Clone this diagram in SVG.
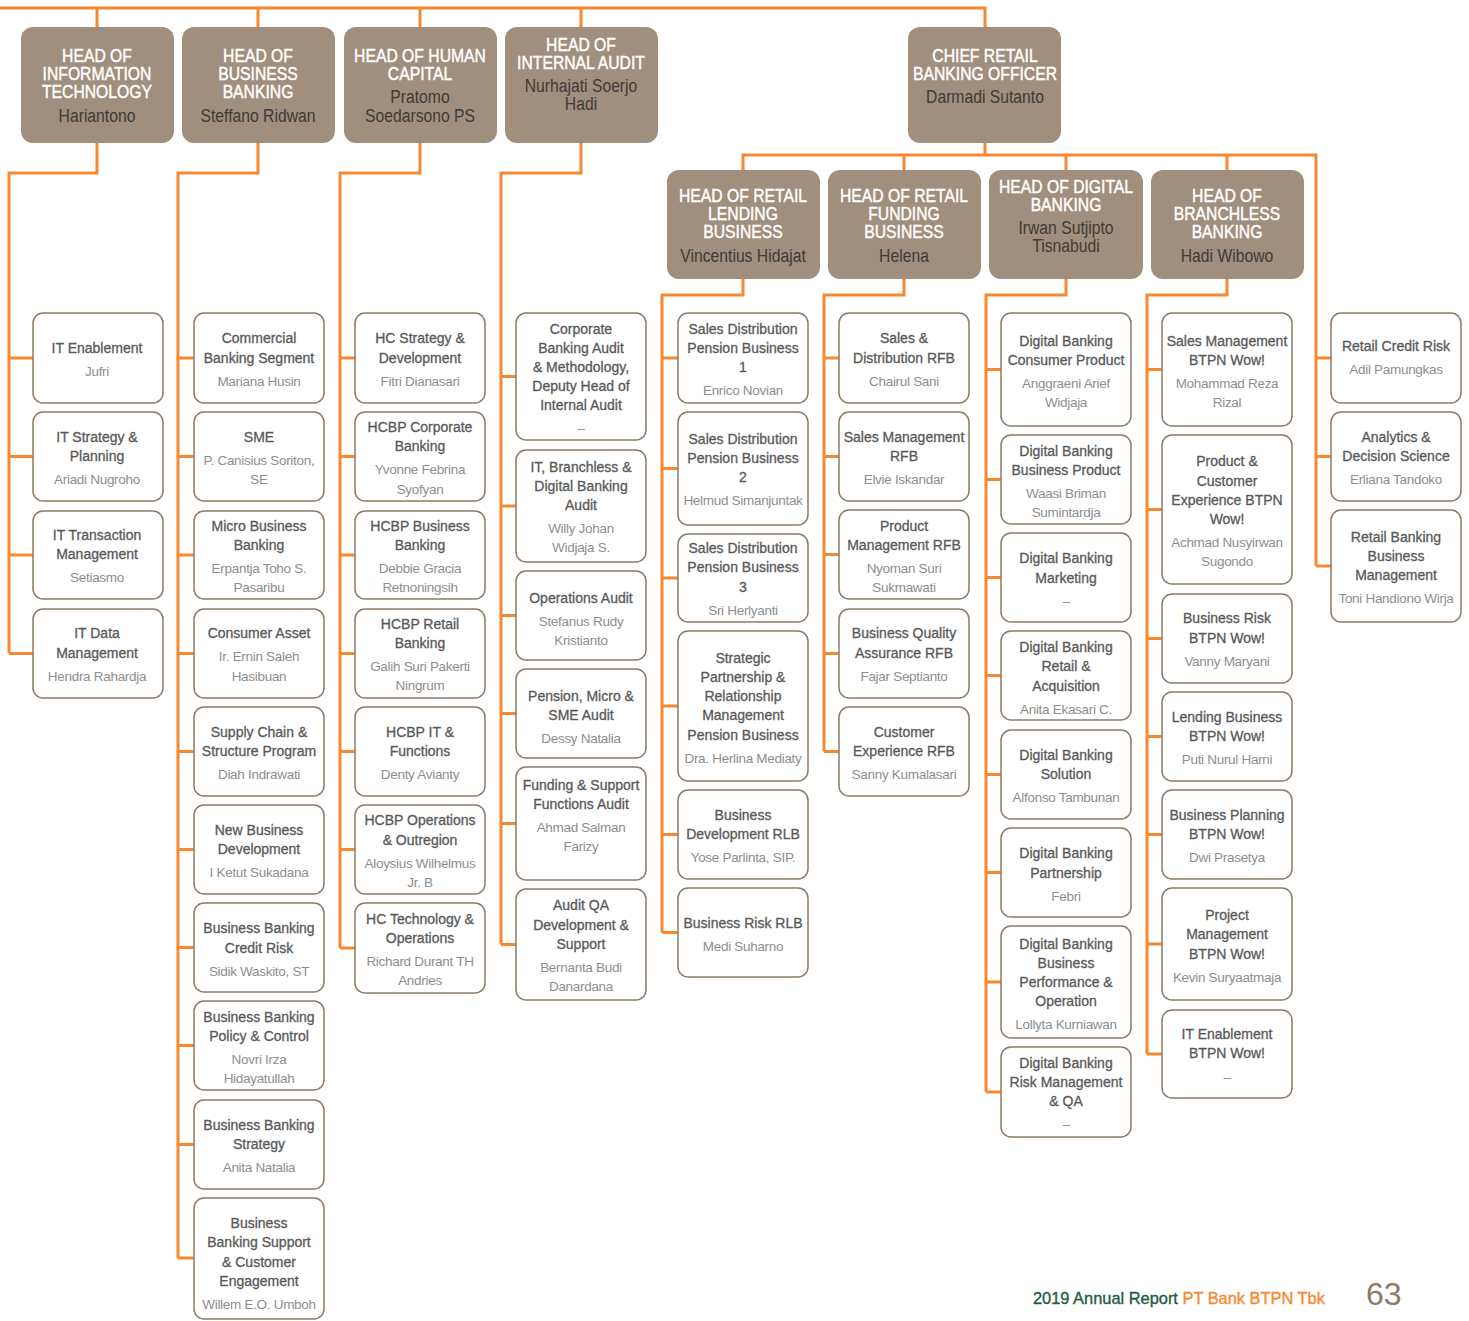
<svg xmlns="http://www.w3.org/2000/svg" width="1469" height="1321" viewBox="0 0 1469 1321">
<style>
  .hd { fill: #a08f7d; }
  .bx { fill: #ffffff; stroke: #8c7b69; stroke-width: 1.5; }
  .ht { font-family: "Liberation Sans", Arial, sans-serif; font-size: 18.5px; fill: #ffffff; stroke: #ffffff; stroke-width: 0.45; text-anchor: middle; }
  .hn { font-family: "Liberation Sans", Arial, sans-serif; font-size: 18.5px; fill: #3e3a36; text-anchor: middle; }
  .t { font-family: "Liberation Sans", Arial, sans-serif; font-size: 14px; fill: #595959; stroke: #595959; stroke-width: 0.3; text-anchor: middle; }
  .n { font-family: "Liberation Sans", Arial, sans-serif; font-size: 13.5px; letter-spacing: -0.3px; fill: #8e8e8e; text-anchor: middle; }
  .ln { fill: none; stroke: #f7882f; stroke-width: 3; stroke-linejoin: miter; }
  .ft { font-family: "Liberation Sans", Arial, sans-serif; font-size: 16.4px; stroke-width: 0.35; }
</style>
<rect width="1469" height="1321" fill="#ffffff"/>

<!-- connectors -->
<g id="connectors" class="ln">
  <path d="M0 8H985V27M97 8V27M258 8V27M420 8V27M581 8V27"/>
  <path d="M985 143V155M743 170V155H1316V566M904 155V170M1066 155V170M1227 155V170"/>
  <path d="M1316 358H1331M1316 456.5H1331M1316 566H1331"/>
  <!-- information technology -->
  <path d="M97 143V173H9V653.5M9 358H33M9 456.5H33M9 555H33M9 653.5H33"/>
  <!-- business banking -->
  <path d="M258 143V173H178V1258M178 358H194M178 456.5H194M178 555H194M178 653.5H194M178 751.5H194M178 849.5H194M178 947.5H194M178 1045.5H194M178 1144.5H194M178 1258H194"/>
  <!-- human capital -->
  <path d="M420 143V173H340V948M340 358H355M340 456.5H355M340 555H355M340 653.5H355M340 751.5H355M340 849.5H355M340 948H355"/>
  <!-- internal audit -->
  <path d="M581 143V173H501V944.5M501 376.5H516M501 506H516M501 615.5H516M501 713.5H516M501 823.5H516M501 944.5H516"/>
  <!-- retail lending -->
  <path d="M743 279V295H662V932.5M662 358H678M662 468.5H678M662 578H678M662 706H678M662 834.5H678M662 932.5H678"/>
  <!-- retail funding -->
  <path d="M904 279V295H824V751.5M824 358H839M824 456.5H839M824 554.5H839M824 653.5H839M824 751.5H839"/>
  <!-- digital banking -->
  <path d="M1066 279V295H986V1092M986 369.5H1001M986 479.5H1001M986 577.5H1001M986 675.5H1001M986 774.5H1001M986 872.5H1001M986 982H1001M986 1092H1001"/>
  <!-- branchless banking -->
  <path d="M1227 279V295H1147V1054M1147 369.5H1162M1147 509.5H1162M1147 638.5H1162M1147 736.5H1162M1147 834.5H1162M1147 944H1162M1147 1054H1162"/>
</g>

<!-- first-level heads -->
<g id="head-it">
  <rect class="hd" x="21" y="27" width="153" height="116" rx="12"/>
  <g transform="translate(97 0) scale(0.85 1)">
    <text class="ht"><tspan x="0" y="62">HEAD OF</tspan><tspan x="0" y="80">INFORMATION</tspan><tspan x="0" y="98">TECHNOLOGY</tspan></text>
    <text class="hn" x="0" y="122">Hariantono</text>
  </g>
</g>
<g id="head-bb">
  <rect class="hd" x="182" y="27" width="153" height="116" rx="12"/>
  <g transform="translate(258 0) scale(0.85 1)">
    <text class="ht"><tspan x="0" y="62">HEAD OF</tspan><tspan x="0" y="80">BUSINESS</tspan><tspan x="0" y="98">BANKING</tspan></text>
    <text class="hn" x="0" y="122">Steffano Ridwan</text>
  </g>
</g>
<g id="head-hc">
  <rect class="hd" x="344" y="27" width="153" height="116" rx="12"/>
  <g transform="translate(420 0) scale(0.85 1)">
    <text class="ht"><tspan x="0" y="62">HEAD OF HUMAN</tspan><tspan x="0" y="80">CAPITAL</tspan></text>
    <text class="hn"><tspan x="0" y="103">Pratomo</tspan><tspan x="0" y="122">Soedarsono PS</tspan></text>
  </g>
</g>
<g id="head-ia">
  <rect class="hd" x="505" y="27" width="153" height="116" rx="12"/>
  <g transform="translate(581 0) scale(0.85 1)">
    <text class="ht"><tspan x="0" y="51">HEAD OF</tspan><tspan x="0" y="69">INTERNAL AUDIT</tspan></text>
    <text class="hn"><tspan x="0" y="92">Nurhajati Soerjo</tspan><tspan x="0" y="110">Hadi</tspan></text>
  </g>
</g>
<g id="head-crbo">
  <rect class="hd" x="908" y="27" width="153" height="116" rx="12"/>
  <g transform="translate(985 0) scale(0.85 1)">
    <text class="ht"><tspan x="0" y="62">CHIEF RETAIL</tspan><tspan x="0" y="80">BANKING OFFICER</tspan></text>
    <text class="hn" x="0" y="103">Darmadi Sutanto</text>
  </g>
</g>

<!-- retail heads -->
<g id="head-lending">
  <rect class="hd" x="667" y="170" width="153" height="109" rx="12"/>
  <g transform="translate(743 0) scale(0.85 1)">
    <text class="ht"><tspan x="0" y="202">HEAD OF RETAIL</tspan><tspan x="0" y="220">LENDING</tspan><tspan x="0" y="238">BUSINESS</tspan></text>
    <text class="hn" x="0" y="262">Vincentius Hidajat</text>
  </g>
</g>
<g id="head-funding">
  <rect class="hd" x="828" y="170" width="153" height="109" rx="12"/>
  <g transform="translate(904 0) scale(0.85 1)">
    <text class="ht"><tspan x="0" y="202">HEAD OF RETAIL</tspan><tspan x="0" y="220">FUNDING</tspan><tspan x="0" y="238">BUSINESS</tspan></text>
    <text class="hn" x="0" y="262">Helena</text>
  </g>
</g>
<g id="head-digital">
  <rect class="hd" x="989" y="170" width="154" height="109" rx="12"/>
  <g transform="translate(1066 0) scale(0.85 1)">
    <text class="ht"><tspan x="0" y="193">HEAD OF DIGITAL</tspan><tspan x="0" y="211">BANKING</tspan></text>
    <text class="hn"><tspan x="0" y="234">Irwan Sutjipto</tspan><tspan x="0" y="252">Tisnabudi</tspan></text>
  </g>
</g>
<g id="head-branchless">
  <rect class="hd" x="1151" y="170" width="153" height="109" rx="12"/>
  <g transform="translate(1227 0) scale(0.85 1)">
    <text class="ht"><tspan x="0" y="202">HEAD OF</tspan><tspan x="0" y="220">BRANCHLESS</tspan><tspan x="0" y="238">BANKING</tspan></text>
    <text class="hn" x="0" y="262">Hadi Wibowo</text>
  </g>
</g>

<!-- information technology units -->
<g id="it-enablement"><rect class="bx" x="33" y="313" width="130" height="90" rx="10"/>
  <text class="t" x="97" y="352.5">IT Enablement</text><text class="n" x="97" y="375.5">Jufri</text></g>
<g id="it-strategy"><rect class="bx" x="33" y="412" width="130" height="89" rx="10"/>
  <text class="t"><tspan x="97" y="441.5">IT Strategy &amp;</tspan><tspan x="97" y="460.5">Planning</tspan></text><text class="n" x="97" y="483.5">Ariadi Nugroho</text></g>
<g id="it-transaction"><rect class="bx" x="33" y="511" width="130" height="88" rx="10"/>
  <text class="t"><tspan x="97" y="539.5">IT Transaction</tspan><tspan x="97" y="558.5">Management</tspan></text><text class="n" x="97" y="581.5">Setiasmo</text></g>
<g id="it-data"><rect class="bx" x="33" y="609" width="130" height="89" rx="10"/>
  <text class="t"><tspan x="97" y="637.5">IT Data</tspan><tspan x="97" y="657.5">Management</tspan></text><text class="n" x="97" y="680.5">Hendra Rahardja</text></g>

<!-- business banking units -->
<g id="bb-commercial"><rect class="bx" x="194" y="313" width="130" height="90" rx="10"/>
  <text class="t"><tspan x="259" y="342.5">Commercial</tspan><tspan x="259" y="362.5">Banking Segment</tspan></text><text class="n" x="259" y="385.5">Mariana Husin</text></g>
<g id="bb-sme"><rect class="bx" x="194" y="412" width="130" height="89" rx="10"/>
  <text class="t" x="259" y="441.5">SME</text><text class="n"><tspan x="259" y="464.5">P. Canisius Soriton,</tspan><tspan x="259" y="483.5">SE</tspan></text></g>
<g id="bb-micro"><rect class="bx" x="194" y="511" width="130" height="88" rx="10"/>
  <text class="t"><tspan x="259" y="530.5">Micro Business</tspan><tspan x="259" y="549.5">Banking</tspan></text><text class="n"><tspan x="259" y="572.5">Erpantja Toho S.</tspan><tspan x="259" y="591.5">Pasaribu</tspan></text></g>
<g id="bb-consumer"><rect class="bx" x="194" y="609" width="130" height="89" rx="10"/>
  <text class="t" x="259" y="637.5">Consumer Asset</text><text class="n"><tspan x="259" y="660.5">Ir. Ernin Saleh</tspan><tspan x="259" y="680.5">Hasibuan</tspan></text></g>
<g id="bb-supply"><rect class="bx" x="194" y="707" width="130" height="89" rx="10"/>
  <text class="t"><tspan x="259" y="736.5">Supply Chain &amp;</tspan><tspan x="259" y="755.5">Structure Program</tspan></text><text class="n" x="259" y="778.5">Diah Indrawati</text></g>
<g id="bb-newbiz"><rect class="bx" x="194" y="805" width="130" height="89" rx="10"/>
  <text class="t"><tspan x="259" y="834.5">New Business</tspan><tspan x="259" y="853.5">Development</tspan></text><text class="n" x="259" y="876.5">I Ketut Sukadana</text></g>
<g id="bb-credit"><rect class="bx" x="194" y="903" width="130" height="89" rx="10"/>
  <text class="t"><tspan x="259" y="932.5">Business Banking</tspan><tspan x="259" y="952.5">Credit Risk</tspan></text><text class="n" x="259" y="975.5">Sidik Waskito, ST</text></g>
<g id="bb-policy"><rect class="bx" x="194" y="1001" width="130" height="89" rx="10"/>
  <text class="t"><tspan x="259" y="1021.5">Business Banking</tspan><tspan x="259" y="1040.5">Policy &amp; Control</tspan></text><text class="n"><tspan x="259" y="1063.5">Novri Irza</tspan><tspan x="259" y="1082.5">Hidayatullah</tspan></text></g>
<g id="bb-strategy"><rect class="bx" x="194" y="1100" width="130" height="89" rx="10"/>
  <text class="t"><tspan x="259" y="1129.5">Business Banking</tspan><tspan x="259" y="1148.5">Strategy</tspan></text><text class="n" x="259" y="1171.5">Anita Natalia</text></g>
<g id="bb-support"><rect class="bx" x="194" y="1198" width="130" height="121" rx="10"/>
  <text class="t"><tspan x="259" y="1227.5">Business</tspan><tspan x="259" y="1246.5">Banking Support</tspan><tspan x="259" y="1266.5">&amp; Customer</tspan><tspan x="259" y="1285.5">Engagement</tspan></text><text class="n" x="259" y="1308.5">Willem E.O. Umboh</text></g>

<!-- human capital units -->
<g id="hc-strategy"><rect class="bx" x="355" y="313" width="130" height="90" rx="10"/>
  <text class="t"><tspan x="420" y="342.5">HC Strategy &amp;</tspan><tspan x="420" y="362.5">Development</tspan></text><text class="n" x="420" y="385.5">Fitri Dianasari</text></g>
<g id="hc-corporate"><rect class="bx" x="355" y="412" width="130" height="89" rx="10"/>
  <text class="t"><tspan x="420" y="431.5">HCBP Corporate</tspan><tspan x="420" y="450.5">Banking</tspan></text><text class="n"><tspan x="420" y="473.5">Yvonne Febrina</tspan><tspan x="420" y="493.5">Syofyan</tspan></text></g>
<g id="hc-business"><rect class="bx" x="355" y="511" width="130" height="88" rx="10"/>
  <text class="t"><tspan x="420" y="530.5">HCBP Business</tspan><tspan x="420" y="549.5">Banking</tspan></text><text class="n"><tspan x="420" y="572.5">Debbie Gracia</tspan><tspan x="420" y="591.5">Retnoningsih</tspan></text></g>
<g id="hc-retail"><rect class="bx" x="355" y="609" width="130" height="89" rx="10"/>
  <text class="t"><tspan x="420" y="628.5">HCBP Retail</tspan><tspan x="420" y="647.5">Banking</tspan></text><text class="n"><tspan x="420" y="670.5">Galih Suri Pakerti</tspan><tspan x="420" y="689.5">Ningrum</tspan></text></g>
<g id="hc-it"><rect class="bx" x="355" y="707" width="130" height="89" rx="10"/>
  <text class="t"><tspan x="420" y="736.5">HCBP IT &amp;</tspan><tspan x="420" y="755.5">Functions</tspan></text><text class="n" x="420" y="778.5">Denty Avianty</text></g>
<g id="hc-operations"><rect class="bx" x="355" y="805" width="130" height="89" rx="10"/>
  <text class="t"><tspan x="420" y="824.5">HCBP Operations</tspan><tspan x="420" y="844.5">&amp; Outregion</tspan></text><text class="n"><tspan x="420" y="867.5">Aloysius Wilhelmus</tspan><tspan x="420" y="886.5">Jr. B</tspan></text></g>
<g id="hc-technology"><rect class="bx" x="355" y="903" width="130" height="90" rx="10"/>
  <text class="t"><tspan x="420" y="923.5">HC Technology &amp;</tspan><tspan x="420" y="942.5">Operations</tspan></text><text class="n"><tspan x="420" y="965.5">Richard Durant TH</tspan><tspan x="420" y="984.5">Andries</tspan></text></g>

<!-- internal audit units -->
<g id="ia-corporate"><rect class="bx" x="516" y="313" width="130" height="127" rx="10"/>
  <text class="t"><tspan x="581" y="333.5">Corporate</tspan><tspan x="581" y="352.5">Banking Audit</tspan><tspan x="581" y="371.5">&amp; Methodology,</tspan><tspan x="581" y="390.5">Deputy Head of</tspan><tspan x="581" y="409.5">Internal Audit</tspan></text><text class="n" x="581" y="432.5">–</text></g>
<g id="ia-it"><rect class="bx" x="516" y="450" width="130" height="112" rx="10"/>
  <text class="t"><tspan x="581" y="471.5">IT, Branchless &amp;</tspan><tspan x="581" y="490.5">Digital Banking</tspan><tspan x="581" y="509.5">Audit</tspan></text><text class="n"><tspan x="581" y="532.5">Willy Johan</tspan><tspan x="581" y="551.5">Widjaja S.</tspan></text></g>
<g id="ia-operations"><rect class="bx" x="516" y="571" width="130" height="89" rx="10"/>
  <text class="t" x="581" y="602.5">Operations Audit</text><text class="n"><tspan x="581" y="625.5">Stefanus Rudy</tspan><tspan x="581" y="644.5">Kristianto</tspan></text></g>
<g id="ia-pension"><rect class="bx" x="516" y="669" width="130" height="89" rx="10"/>
  <text class="t"><tspan x="581" y="700.5">Pension, Micro &amp;</tspan><tspan x="581" y="719.5">SME Audit</tspan></text><text class="n" x="581" y="742.5">Dessy Natalia</text></g>
<g id="ia-funding"><rect class="bx" x="516" y="767" width="130" height="113" rx="10"/>
  <text class="t"><tspan x="581" y="789.5">Funding &amp; Support</tspan><tspan x="581" y="808.5">Functions Audit</tspan></text><text class="n"><tspan x="581" y="831.5">Ahmad Salman</tspan><tspan x="581" y="850.5">Farizy</tspan></text></g>
<g id="ia-qa"><rect class="bx" x="516" y="889" width="130" height="111" rx="10"/>
  <text class="t"><tspan x="581" y="909.5">Audit QA</tspan><tspan x="581" y="929.5">Development &amp;</tspan><tspan x="581" y="948.5">Support</tspan></text><text class="n"><tspan x="581" y="971.5">Bernanta Budi</tspan><tspan x="581" y="990.5">Danardana</tspan></text></g>

<!-- retail lending units -->
<g id="rlb-sales1"><rect class="bx" x="678" y="313" width="130" height="90" rx="10"/>
  <text class="t"><tspan x="743" y="333.5">Sales Distribution</tspan><tspan x="743" y="352.5">Pension Business</tspan><tspan x="743" y="371.5">1</tspan></text><text class="n" x="743" y="394.5">Enrico Novian</text></g>
<g id="rlb-sales2"><rect class="bx" x="678" y="412" width="130" height="113" rx="10"/>
  <text class="t"><tspan x="743" y="443.5">Sales Distribution</tspan><tspan x="743" y="462.5">Pension Business</tspan><tspan x="743" y="481.5">2</tspan></text><text class="n" x="743" y="504.5">Helmud Simanjuntak</text></g>
<g id="rlb-sales3"><rect class="bx" x="678" y="534" width="130" height="88" rx="10"/>
  <text class="t"><tspan x="743" y="552.5">Sales Distribution</tspan><tspan x="743" y="571.5">Pension Business</tspan><tspan x="743" y="591.5">3</tspan></text><text class="n" x="743" y="614.5">Sri Herlyanti</text></g>
<g id="rlb-partnership"><rect class="bx" x="678" y="631" width="130" height="150" rx="10"/>
  <text class="t"><tspan x="743" y="662.5">Strategic</tspan><tspan x="743" y="681.5">Partnership &amp;</tspan><tspan x="743" y="700.5">Relationship</tspan><tspan x="743" y="719.5">Management</tspan><tspan x="743" y="739.5">Pension Business</tspan></text><text class="n" x="743" y="762.5">Dra. Herlina Mediaty</text></g>
<g id="rlb-bizdev"><rect class="bx" x="678" y="790" width="130" height="89" rx="10"/>
  <text class="t"><tspan x="743" y="819.5">Business</tspan><tspan x="743" y="838.5">Development RLB</tspan></text><text class="n" x="743" y="861.5">Yose Parlinta, SIP.</text></g>
<g id="rlb-risk"><rect class="bx" x="678" y="888" width="130" height="89" rx="10"/>
  <text class="t" x="743" y="927.5">Business Risk RLB</text><text class="n" x="743" y="950.5">Medi Suharno</text></g>

<!-- retail funding units -->
<g id="rfb-sales"><rect class="bx" x="839" y="313" width="130" height="90" rx="10"/>
  <text class="t"><tspan x="904" y="342.5">Sales &amp;</tspan><tspan x="904" y="362.5">Distribution RFB</tspan></text><text class="n" x="904" y="385.5">Chairul Sani</text></g>
<g id="rfb-salesmgmt"><rect class="bx" x="839" y="412" width="130" height="89" rx="10"/>
  <text class="t"><tspan x="904" y="441.5">Sales Management</tspan><tspan x="904" y="460.5">RFB</tspan></text><text class="n" x="904" y="483.5">Elvie Iskandar</text></g>
<g id="rfb-product"><rect class="bx" x="839" y="510" width="130" height="89" rx="10"/>
  <text class="t"><tspan x="904" y="530.5">Product</tspan><tspan x="904" y="549.5">Management RFB</tspan></text><text class="n"><tspan x="904" y="572.5">Nyoman Suri</tspan><tspan x="904" y="591.5">Sukmawati</tspan></text></g>
<g id="rfb-quality"><rect class="bx" x="839" y="609" width="130" height="89" rx="10"/>
  <text class="t"><tspan x="904" y="637.5">Business Quality</tspan><tspan x="904" y="657.5">Assurance RFB</tspan></text><text class="n" x="904" y="680.5">Fajar Septianto</text></g>
<g id="rfb-cx"><rect class="bx" x="839" y="707" width="130" height="89" rx="10"/>
  <text class="t"><tspan x="904" y="736.5">Customer</tspan><tspan x="904" y="755.5">Experience RFB</tspan></text><text class="n" x="904" y="778.5">Sanny Kumalasari</text></g>

<!-- digital banking units -->
<g id="db-consumer"><rect class="bx" x="1001" y="313" width="130" height="113" rx="10"/>
  <text class="t"><tspan x="1066" y="345.5">Digital Banking</tspan><tspan x="1066" y="364.5">Consumer Product</tspan></text><text class="n"><tspan x="1066" y="387.5">Anggraeni Arief</tspan><tspan x="1066" y="406.5">Widjaja</tspan></text></g>
<g id="db-business"><rect class="bx" x="1001" y="435" width="130" height="89" rx="10"/>
  <text class="t"><tspan x="1066" y="455.5">Digital Banking</tspan><tspan x="1066" y="474.5">Business Product</tspan></text><text class="n"><tspan x="1066" y="497.5">Waasi Briman</tspan><tspan x="1066" y="516.5">Sumintardja</tspan></text></g>
<g id="db-marketing"><rect class="bx" x="1001" y="533" width="130" height="89" rx="10"/>
  <text class="t"><tspan x="1066" y="562.5">Digital Banking</tspan><tspan x="1066" y="582.5">Marketing</tspan></text><text class="n" x="1066" y="605.5">–</text></g>
<g id="db-retail"><rect class="bx" x="1001" y="631" width="130" height="89" rx="10"/>
  <text class="t"><tspan x="1066" y="651.5">Digital Banking</tspan><tspan x="1066" y="670.5">Retail &amp;</tspan><tspan x="1066" y="690.5">Acquisition</tspan></text><text class="n" x="1066" y="713.5">Anita Ekasari C.</text></g>
<g id="db-solution"><rect class="bx" x="1001" y="730" width="130" height="89" rx="10"/>
  <text class="t"><tspan x="1066" y="759.5">Digital Banking</tspan><tspan x="1066" y="778.5">Solution</tspan></text><text class="n" x="1066" y="801.5">Alfonso Tambunan</text></g>
<g id="db-partnership"><rect class="bx" x="1001" y="828" width="130" height="89" rx="10"/>
  <text class="t"><tspan x="1066" y="857.5">Digital Banking</tspan><tspan x="1066" y="877.5">Partnership</tspan></text><text class="n" x="1066" y="900.5">Febri</text></g>
<g id="db-performance"><rect class="bx" x="1001" y="926" width="130" height="112" rx="10"/>
  <text class="t"><tspan x="1066" y="948.5">Digital Banking</tspan><tspan x="1066" y="967.5">Business</tspan><tspan x="1066" y="986.5">Performance &amp;</tspan><tspan x="1066" y="1005.5">Operation</tspan></text><text class="n" x="1066" y="1028.5">Lollyta Kurniawan</text></g>
<g id="db-risk"><rect class="bx" x="1001" y="1047" width="130" height="90" rx="10"/>
  <text class="t"><tspan x="1066" y="1067.5">Digital Banking</tspan><tspan x="1066" y="1086.5">Risk Management</tspan><tspan x="1066" y="1105.5">&amp; QA</tspan></text><text class="n" x="1066" y="1128.5">–</text></g>

<!-- branchless banking units -->
<g id="bw-sales"><rect class="bx" x="1162" y="313" width="130" height="113" rx="10"/>
  <text class="t"><tspan x="1227" y="345.5">Sales Management</tspan><tspan x="1227" y="364.5">BTPN Wow!</tspan></text><text class="n"><tspan x="1227" y="387.5">Mohammad Reza</tspan><tspan x="1227" y="406.5">Rizal</tspan></text></g>
<g id="bw-product"><rect class="bx" x="1162" y="435" width="130" height="149" rx="10"/>
  <text class="t"><tspan x="1227" y="465.5">Product &amp;</tspan><tspan x="1227" y="485.5">Customer</tspan><tspan x="1227" y="504.5">Experience BTPN</tspan><tspan x="1227" y="523.5">Wow!</tspan></text><text class="n"><tspan x="1227" y="546.5">Achmad Nusyirwan</tspan><tspan x="1227" y="565.5">Sugondo</tspan></text></g>
<g id="bw-risk"><rect class="bx" x="1162" y="594" width="130" height="89" rx="10"/>
  <text class="t"><tspan x="1227" y="622.5">Business Risk</tspan><tspan x="1227" y="642.5">BTPN Wow!</tspan></text><text class="n" x="1227" y="665.5">Vanny Maryani</text></g>
<g id="bw-lending"><rect class="bx" x="1162" y="692" width="130" height="89" rx="10"/>
  <text class="t"><tspan x="1227" y="721.5">Lending Business</tspan><tspan x="1227" y="740.5">BTPN Wow!</tspan></text><text class="n" x="1227" y="763.5">Puti Nurul Harni</text></g>
<g id="bw-planning"><rect class="bx" x="1162" y="790" width="130" height="89" rx="10"/>
  <text class="t"><tspan x="1227" y="819.5">Business Planning</tspan><tspan x="1227" y="838.5">BTPN Wow!</tspan></text><text class="n" x="1227" y="861.5">Dwi Prasetya</text></g>
<g id="bw-project"><rect class="bx" x="1162" y="888" width="130" height="112" rx="10"/>
  <text class="t"><tspan x="1227" y="919.5">Project</tspan><tspan x="1227" y="938.5">Management</tspan><tspan x="1227" y="958.5">BTPN Wow!</tspan></text><text class="n" x="1227" y="981.5">Kevin Suryaatmaja</text></g>
<g id="bw-it"><rect class="bx" x="1162" y="1010" width="130" height="88" rx="10"/>
  <text class="t"><tspan x="1227" y="1038.5">IT Enablement</tspan><tspan x="1227" y="1057.5">BTPN Wow!</tspan></text><text class="n" x="1227" y="1081.5">–</text></g>

<!-- units under the chief retail banking officer -->
<g id="crb-credit"><rect class="bx" x="1331" y="313" width="130" height="90" rx="10"/>
  <text class="t" x="1396" y="350.5">Retail Credit Risk</text><text class="n" x="1396" y="373.5">Adil Pamungkas</text></g>
<g id="crb-analytics"><rect class="bx" x="1331" y="412" width="130" height="89" rx="10"/>
  <text class="t"><tspan x="1396" y="441.5">Analytics &amp;</tspan><tspan x="1396" y="460.5">Decision Science</tspan></text><text class="n" x="1396" y="483.5">Erliana Tandoko</text></g>
<g id="crb-management"><rect class="bx" x="1331" y="510" width="130" height="112" rx="10"/>
  <text class="t"><tspan x="1396" y="541.5">Retail Banking</tspan><tspan x="1396" y="560.5">Business</tspan><tspan x="1396" y="579.5">Management</tspan></text><text class="n" x="1396" y="602.5">Toni Handiono Wirja</text></g>

<!-- page footer -->
<text class="ft" x="1033" y="1304"><tspan fill="#1e5c3f" stroke="#1e5c3f">2019 Annual Report </tspan><tspan fill="#f7882f" stroke="#f7882f">PT Bank BTPN Tbk</tspan></text>
<text x="1366" y="1305" font-family="Liberation Sans, Arial, sans-serif" font-size="32" fill="#8a7a67">63</text>
</svg>
